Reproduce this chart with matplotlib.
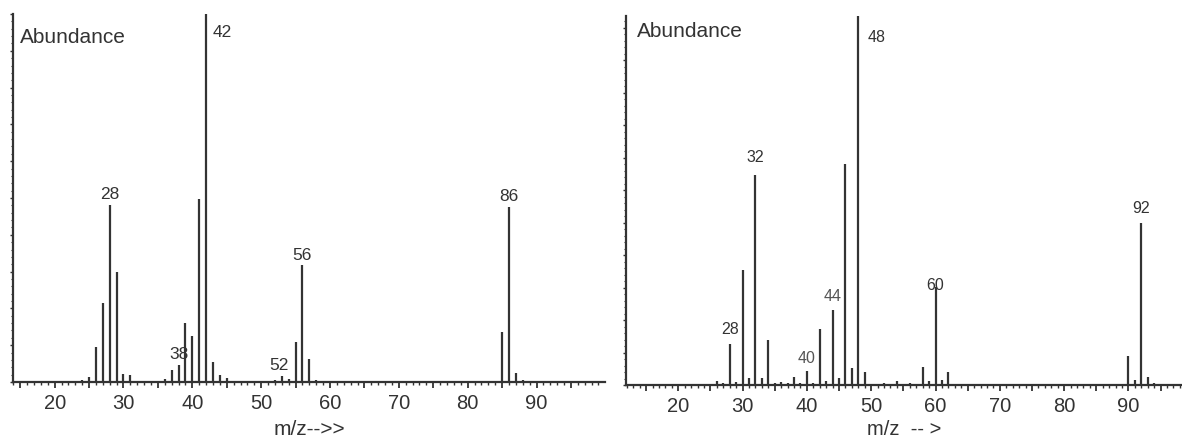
import matplotlib
matplotlib.use('Agg')
import matplotlib.pyplot as plt
from matplotlib.ticker import MultipleLocator, FuncFormatter

plt.rcParams['font.family'] = ['Liberation Sans', 'DejaVu Sans']

# left spectrum (m/z, relative abundance)
left_mz = [24, 25, 26, 27, 28, 29, 30, 31, 36, 37, 38, 39, 40, 41, 42, 43, 44, 45,
           52, 53, 54, 55, 56, 57, 58, 74, 85, 86, 87, 88]
left_ab = [0.6, 1.4, 9.5, 21.6, 48.0, 30.0, 2.3, 1.8, 0.9, 3.2, 4.5, 16.1, 12.4, 49.8, 100, 5.4, 2.0, 1.2,
           0.5, 1.6, 0.9, 10.9, 31.8, 6.2, 0.5, 0.3, 13.7, 47.6, 2.5, 0.5]
left_labels = ['28', '38', '42', '52', '56', '86']
left_label_mz = [28, 38, 42, 52, 56, 86]

# right spectrum
right_mz = [26, 27, 28, 29, 30, 31, 32, 33, 34, 35, 36, 37, 38, 39, 40, 41, 42, 43, 44, 45,
            46, 47, 48, 49, 52, 54, 56, 58, 59, 60, 61, 62, 90, 91, 92, 93, 94]
right_ab = [1.0, 0.5, 11.1, 0.7, 31.3, 1.9, 56.8, 1.9, 12.1, 0.5, 0.7, 0.5, 2.1, 0.5, 3.9, 0.5, 15.2, 1.0, 20.4, 1.9,
            59.9, 4.6, 100, 3.6, 0.5, 1.0, 0.5, 5.0, 1.0, 26.5, 1.4, 3.6, 7.8, 1.4, 43.9, 2.3, 0.5]
right_labels = ['28', '32', '40', '44', '48', '60', '92']
right_label_mz = [28, 32, 40, 44, 48, 60, 92]

ink = '#333333'
W, H = 1182, 439
fig = plt.figure(figsize=(W / 100, H / 100), dpi=100)


def setup(ax, xlim, ymajor):
    ax.set_xlim(*xlim)
    ax.set_ylim(0, 100)
    for s in ['top', 'right']:
        ax.spines[s].set_visible(False)
    for s in ['left', 'bottom']:
        ax.spines[s].set_linewidth(1.6)
        ax.spines[s].set_color(ink)
    ax.xaxis.set_major_locator(MultipleLocator(5))
    ax.xaxis.set_minor_locator(MultipleLocator(1))
    ax.xaxis.set_major_formatter(FuncFormatter(lambda v, p: '%d' % v if v % 10 == 0 and v < 100 else ''))
    ax.yaxis.set_major_locator(MultipleLocator(ymajor))
    ax.yaxis.set_minor_locator(MultipleLocator(ymajor / 5))
    ax.yaxis.set_major_formatter(FuncFormatter(lambda v, p: ''))
    ax.tick_params(axis='x', which='major', length=4, width=1.3, color=ink,
                   labelsize=14.5, labelcolor=ink, pad=4)
    ax.tick_params(axis='x', which='minor', length=2, width=1.0, color=ink)
    ax.tick_params(axis='y', which='major', length=2.5, width=1.0, color=ink)
    ax.tick_params(axis='y', which='minor', length=1.5, width=0.8, color=ink)


# left panel
ax1 = fig.add_axes([13 / W, 1 - 383 / H, (605 - 13) / W, (383 - 15) / H])
setup(ax1, (13.95, 99.95), 10)
ax1.vlines(left_mz, 0, left_ab, color=ink, lw=1.6)
ab1 = dict(zip(left_mz, left_ab))
left_off = {'28': (0, 3), '38': (0, 3), '56': (0, 2), '86': (0, 3), '52': (3, 6)}
for lab, m in zip(left_labels, left_label_mz):
    if lab == '42':
        ax1.annotate(lab, (m, 100), xytext=(5, -7), textcoords='offset points',
                     ha='left', va='top', fontsize=12.5, color=ink)
    else:
        ax1.annotate(lab, (m, ab1[m]), xytext=left_off[lab], textcoords='offset points',
                     ha='center', va='bottom', fontsize=12.5, color=ink)
ax1.text(0.012, 0.94, 'Abundance', transform=ax1.transAxes, fontsize=15, color=ink,
         ha='left', va='center')
ax1.set_xlabel('m/z-->>', fontsize=15, color=ink, labelpad=5)

# right panel
ax2 = fig.add_axes([626 / W, 1 - 386 / H, (W - 626) / W, (386 - 17) / H])
setup(ax2, (11.87, 98.33), 8.8)
ax2.vlines(right_mz, 0, right_ab, color=ink, lw=1.6)
ab2 = dict(zip(right_mz, right_ab))
right_off = {'28': (0, 6), '32': (0, 8), '40': (0, 4), '44': (0, 5), '92': (0, 6)}
right_col = {'40': '#555555', '44': '#555555'}
for lab, m in zip(right_labels, right_label_mz):
    c = right_col.get(lab, ink)
    if lab == '48':
        ax2.annotate(lab, (m, 100), xytext=(7, -9), textcoords='offset points',
                     ha='left', va='top', fontsize=11.5, color=c)
    elif lab == '60':
        ax2.annotate(lab, (m, ab2[m]), xytext=(0, 2), textcoords='offset points',
                     ha='center', va='center', fontsize=11.5, color=c)
    else:
        ax2.annotate(lab, (m, ab2[m]), xytext=right_off[lab], textcoords='offset points',
                     ha='center', va='bottom', fontsize=11.5, color=c)
ax2.text(0.02, 0.96, 'Abundance', transform=ax2.transAxes, fontsize=15, color=ink,
         ha='left', va='center')
ax2.set_xlabel('m/z  -- >', fontsize=14.5, color=ink, labelpad=3)

fig.savefig('out.png', dpi=100)
